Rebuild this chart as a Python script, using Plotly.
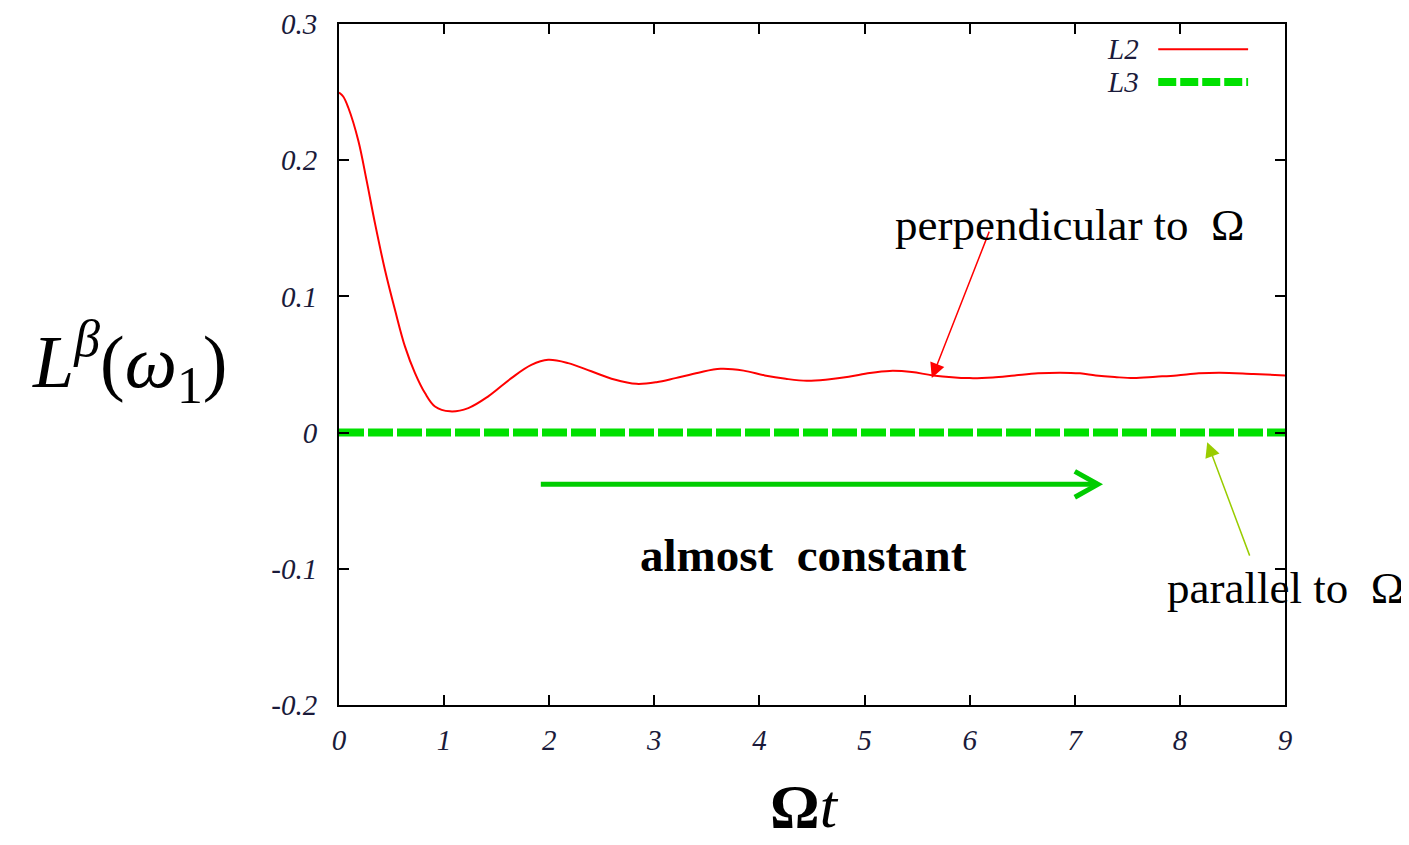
import plotly.graph_objects as go

# ---- data ----
L2_t = [0.0, 0.04, 0.088, 0.184, 0.263, 0.343, 0.438, 0.533, 0.628, 0.723, 0.818, 0.913,
        1.056, 1.23, 1.42, 1.64, 1.83, 1.99, 2.18, 2.4, 2.62, 2.83, 3.02, 3.2, 3.42,
        3.63, 3.85, 4.05, 4.25, 4.45, 4.65, 4.85, 5.05, 5.24, 5.45, 5.65, 6.0, 6.22,
        6.43, 6.65, 6.86, 7.05, 7.2, 7.38, 7.56, 7.77, 7.97, 8.18, 8.38, 8.7, 9.0]
L2_v = [0.2497, 0.2468, 0.2387, 0.2143, 0.185, 0.1534, 0.1192, 0.090, 0.0631, 0.0437, 0.029,
        0.0192, 0.0156, 0.018, 0.0266, 0.040, 0.0497, 0.0534, 0.051, 0.045, 0.039,
        0.0358, 0.037, 0.040, 0.044, 0.0468, 0.0455, 0.042, 0.0395, 0.038, 0.039,
        0.041, 0.0438, 0.0453, 0.0445, 0.042, 0.040, 0.0405, 0.042, 0.0435, 0.044,
        0.0435, 0.042, 0.0408, 0.040, 0.041, 0.042, 0.0435, 0.044, 0.043, 0.042]
L3_t = [0, 1, 2, 3, 4, 5, 6, 7, 8, 9]
L3_v = [0.0, 0.0, 0.0, 0.0, 0.0, 0.0, 0.0, 0.0, 0.0, 0.0]

x_ticks = [0, 1, 2, 3, 4, 5, 6, 7, 8, 9]
x_tick_labels = ["0", "1", "2", "3", "4", "5", "6", "7", "8", "9"]
y_ticks = [-0.2, -0.1, 0, 0.1, 0.2, 0.3]
y_tick_labels = ["-0.2", "-0.1", "0", "0.1", "0.2", "0.3"]

RED = "#ff0000"
GREEN = "#00e000"
SERIF = "Liberation Serif"

fig = go.Figure()
fig.add_trace(go.Scatter(x=L3_t, y=L3_v, mode="lines", name="L3",
                         line=dict(color=GREEN, width=8, dash="25px,4px"),
                         showlegend=False))
fig.add_trace(go.Scatter(x=L2_t, y=L2_v, mode="lines", name="L2",
                         line=dict(color=RED, width=2, shape="spline", smoothing=1.0),
                         showlegend=False))

tickfont = dict(family=SERIF, size=29, color="#1a1a3a", style="italic")
fig.update_xaxes(range=[0, 9], tickvals=x_ticks, ticktext=x_tick_labels,
                 ticks="inside", ticklen=10, tickwidth=2, tickcolor="black",
                 showline=True, linecolor="black", linewidth=2, mirror="ticks",
                 showgrid=False, zeroline=False, tickfont=tickfont,
                 ticklabelstandoff=8, automargin=False)
fig.update_yaxes(range=[-0.2, 0.3], tickvals=y_ticks, ticktext=y_tick_labels,
                 ticks="inside", ticklen=10, tickwidth=2, tickcolor="black",
                 showline=True, linecolor="black", linewidth=2, mirror="ticks",
                 showgrid=False, zeroline=False, tickfont=tickfont,
                 ticklabelstandoff=14, automargin=False)

# manual gnuplot-style legend (label left of sample)
fig.add_shape(type="line", xref="paper", yref="paper", x0=0.866, x1=0.961,
              y0=0.963, y1=0.963, line=dict(color=RED, width=2))
fig.add_shape(type="line", xref="paper", yref="paper", x0=0.866, x1=0.961,
              y0=0.915, y1=0.915, line=dict(color=GREEN, width=8, dash="18px,4px"))
for txt, yy in [("L2", 0.963), ("L3", 0.915)]:
    fig.add_annotation(xref="paper", yref="paper", x=0.848, y=yy, text=txt,
                       showarrow=False, xanchor="right", yanchor="middle",
                       font=dict(family=SERIF, size=29, color="#1a1a3a", style="italic"))

# big green arrow "almost constant"
fig.add_shape(type="line", xref="x", yref="y", x0=1.92, x1=7.18, y0=-0.038, y1=-0.038,
              line=dict(color="#00cc00", width=5))
fig.add_shape(type="path", xref="x", yref="y",
              path="M 7.0,-0.0285 L 7.22,-0.038 L 7.0,-0.0475",
              line=dict(color="#00cc00", width=5))

fig.add_annotation(xref="paper", yref="paper", x=0.4905, y=0.2203,
                   text="almost\u00a0 constant", showarrow=False,
                   xanchor="center", yanchor="middle",
                   font=dict(family=SERIF, size=47, color="black", weight="bold"))

# pointer arrows
fig.add_annotation(x=5.64, y=0.040, xref="x", yref="y", ax=58, ay=-148,
                   text="", showarrow=True, arrowhead=2, arrowsize=2.0,
                   arrowwidth=1.5, arrowcolor=RED)
fig.add_annotation(x=8.26, y=-0.007, xref="x", yref="y", ax=43, ay=115,
                   text="", showarrow=True, arrowhead=2, arrowsize=2.0,
                   arrowwidth=1.5, arrowcolor="#99cc00")

fig.add_annotation(xref="paper", yref="paper", x=0.5856, y=0.705,
                   text="perpendicular to\u00a0 Ω", showarrow=False,
                   xanchor="left", yanchor="middle",
                   font=dict(family=SERIF, size=45, color="black"))
fig.add_annotation(xref="paper", yref="paper", x=0.873, y=0.172,
                   text="parallel to\u00a0 Ω", showarrow=False,
                   xanchor="left", yanchor="middle",
                   font=dict(family=SERIF, size=45, color="black"))

# axis titles
fig.add_annotation(xref="paper", yref="paper", x=-0.221, y=0.504,
                   text="<i>L</i><sup><i>β</i></sup>(<i>ω</i><sub>1</sub>)",
                   showarrow=False, xanchor="center", yanchor="middle",
                   font=dict(family=SERIF, size=74, color="black"))
fig.add_annotation(xref="paper", yref="paper", x=0.4926, y=-0.148,
                   text="<b>Ω</b><i>t</i>", showarrow=False,
                   xanchor="center", yanchor="middle",
                   font=dict(family=SERIF, size=62, color="black"))

# page body has an 8px margin: shift the plot area so it lands where the reference has it
fig.update_layout(width=1409, height=845, plot_bgcolor="white", paper_bgcolor="white",
                  margin=dict(l=331, r=132, t=16, b=148), showlegend=False)

fig.write_html("out.html")
